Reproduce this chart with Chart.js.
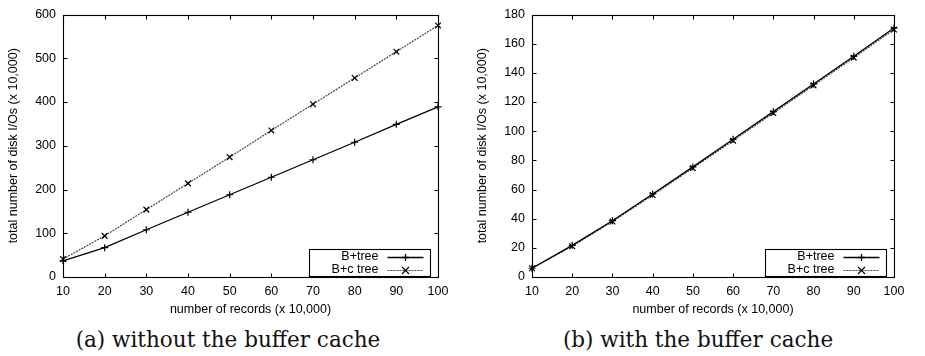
<!DOCTYPE html>
<html>
<head>
<meta charset="utf-8">
<script src="https://cdn.jsdelivr.net/npm/chart.js@4.4.1/dist/chart.umd.min.js"></script>
<style>
    html, body { margin: 0; padding: 0; background: #fff; }
    body { width: 925px; height: 356px; position: relative; overflow: hidden; }
    .plot { position: absolute; top: 0; }
    .caption {
        position: absolute; top: 327px; width: 400px; text-align: center;
        font-family: 'DejaVu Serif', 'Liberation Serif', serif; font-size: 21.5px; color: #111;
        white-space: nowrap;
    }
</style>
</head>
<body>
<div class="plot" style="left:0;width:469px;height:322px"><canvas id="chartNoCache" width="469" height="322"></canvas></div>
<div class="plot" style="left:469px;width:456px;height:322px"><canvas id="chartCache" width="456" height="322"></canvas></div>
<div class="caption" style="left:28px">(a) without the buffer cache</div>
<div class="caption" style="left:498px">(b) with the buffer cache</div>

<script>
// --- Du lieu doc tu hinh ---
const recordCounts = [10, 20, 30, 40, 50, 60, 70, 80, 90, 100];
const seriesNames = ['B+tree', 'B+c tree'];

// (a) khong co buffer cache
const noCacheBPlus  = [37, 67, 108, 148, 188, 228, 268, 308, 349, 389];
const noCacheBPlusC = [41, 94, 154, 214, 274, 335, 395, 455, 515, 575];
const noCacheYTicks = [0, 100, 200, 300, 400, 500, 600];

// (b) co buffer cache
const cacheBPlus  = [6, 21.7, 38.6, 56.9, 75.5, 94.4, 113.4, 132.4, 151.4, 170.7];
const cacheBPlusC = [6, 21.1, 38.0, 56.2, 74.7, 93.5, 112.4, 131.4, 150.4, 169.7];
const cacheYTicks = [0, 20, 40, 60, 80, 100, 120, 140, 160, 180];

const xTicks = recordCounts;

const FONT = "'Liberation Sans', Arial, sans-serif";
Chart.defaults.font.family = FONT;
Chart.defaults.font.size = 12.5;
Chart.defaults.color = '#000';

// Khung + vach chia huong vao trong (kieu gnuplot)
const framePlugin = {
    id: 'frame',
    afterDatasetsDraw(chart) {
        const { ctx, chartArea: a, scales } = chart;
        const L = Math.round(a.left) + 0.5, R = Math.round(a.right) + 0.5;
        const T = Math.round(a.top) + 0.5, B = Math.round(a.bottom) + 0.5;
        ctx.save();
        ctx.strokeStyle = '#000';
        ctx.lineWidth = 1.1;
        ctx.setLineDash([]);
        ctx.strokeRect(L, T, R - L, B - T);
        ctx.beginPath();
        scales.x.ticks.forEach(t => {
            const px = Math.round(scales.x.getPixelForValue(t.value)) + 0.5;
            ctx.moveTo(px, B); ctx.lineTo(px, B - 4);
            ctx.moveTo(px, T); ctx.lineTo(px, T + 4);
        });
        scales.y.ticks.forEach(t => {
            const py = Math.round(scales.y.getPixelForValue(t.value)) + 0.5;
            ctx.moveTo(L, py); ctx.lineTo(L + 4, py);
            ctx.moveTo(R, py); ctx.lineTo(R - 4, py);
        });
        ctx.stroke();
        ctx.restore();
    }
};

// Chu thich trong khung o goc duoi phai
const boxLegendPlugin = {
    id: 'boxLegend',
    afterDraw(chart) {
        const { ctx, chartArea: a } = chart;
        const w = 121, h = 27;
        const x0 = Math.round(a.right - 8 - w) + 0.5;
        const y0 = Math.round(a.bottom - 1 - h) + 0.5;
        ctx.save();
        ctx.fillStyle = '#fff';
        ctx.fillRect(x0, y0, w, h);
        ctx.strokeStyle = '#000';
        ctx.lineWidth = 1.1;
        ctx.strokeRect(x0, y0, w, h);
        ctx.font = "12.5px " + FONT;
        ctx.textAlign = 'right';
        ctx.textBaseline = 'middle';
        chart.data.datasets.forEach((ds, i) => {
            const cy = y0 + 7 + i * 13;
            ctx.fillStyle = '#000';
            ctx.fillText(ds.label, x0 + 69, cy);
            ctx.beginPath();
            ctx.strokeStyle = ds.borderColor;
            ctx.lineWidth = ds.borderWidth;
            ctx.setLineDash(ds.borderDash || []);
            ctx.moveTo(x0 + 78, Math.round(cy) + 0.5);
            ctx.lineTo(x0 + 114, Math.round(cy) + 0.5);
            ctx.stroke();
            ctx.setLineDash([]);
            const mx = x0 + 96, my = Math.round(cy) + 0.5, r = 3.5;
            ctx.beginPath();
            ctx.strokeStyle = '#000';
            if (ds.pointStyle === 'cross') {
                ctx.moveTo(mx - r, my); ctx.lineTo(mx + r, my);
                ctx.moveTo(mx, my - r); ctx.lineTo(mx, my + r);
            } else {
                ctx.moveTo(mx - r, my - r); ctx.lineTo(mx + r, my + r);
                ctx.moveTo(mx - r, my + r); ctx.lineTo(mx + r, my - r);
            }
            ctx.stroke();
        });
        ctx.restore();
    }
};

function makeChart(canvasId, bPlus, bPlusC, yTicks) {
    const toPoints = vals => vals.map((v, i) => ({ x: recordCounts[i], y: v }));
    return new Chart(document.getElementById(canvasId), {
        type: 'line',
        data: {
            datasets: [{
                label: seriesNames[0],
                data: toPoints(bPlus),
                borderColor: '#000',
                borderWidth: 1.3,
                pointStyle: 'cross',
                pointRadius: 3.5,
                pointBorderColor: '#000',
                pointBorderWidth: 1.2,
                fill: false,
                tension: 0,
                clip: false
            }, {
                label: seriesNames[1],
                data: toPoints(bPlusC),
                borderColor: '#444',
                borderDash: [2, 1],
                borderWidth: 1.2,
                pointStyle: 'crossRot',
                pointRadius: 4,
                pointBorderColor: '#000',
                pointBorderWidth: 1.2,
                fill: false,
                tension: 0,
                clip: false
            }]
        },
        options: {
            responsive: false,
            animation: false,
            events: [],
            layout: { padding: { top: 9, right: 31, left: 0, bottom: 0 } },
            plugins: { legend: { display: false }, tooltip: { enabled: false } },
            scales: {
                x: {
                    type: 'linear',
                    min: xTicks[0],
                    max: xTicks[xTicks.length - 1],
                    afterBuildTicks: s => { s.ticks = xTicks.map(v => ({ value: v })); },
                    ticks: { padding: 7, color: '#000' },
                    grid: { display: false, drawTicks: false },
                    border: { display: false },
                    title: {
                        display: true,
                        text: 'number of records (x 10,000)',
                        color: '#000',
                        padding: { top: 2, bottom: 5 }
                    },
                    afterFit: s => { s.height = 45; }
                },
                y: {
                    min: yTicks[0],
                    max: yTicks[yTicks.length - 1],
                    afterBuildTicks: s => { s.ticks = yTicks.map(v => ({ value: v })); },
                    ticks: { padding: 7, color: '#000' },
                    grid: { display: false, drawTicks: false },
                    border: { display: false },
                    title: {
                        display: true,
                        text: 'total number of disk I/Os (x 10,000)',
                        color: '#000',
                        padding: { top: 6, bottom: 2 }
                    },
                    afterFit: s => { s.width = 63; }
                }
            }
        },
        plugins: [framePlugin, boxLegendPlugin]
    });
}

makeChart('chartNoCache', noCacheBPlus, noCacheBPlusC, noCacheYTicks);
makeChart('chartCache', cacheBPlus, cacheBPlusC, cacheYTicks);
</script>
</body>
</html>
